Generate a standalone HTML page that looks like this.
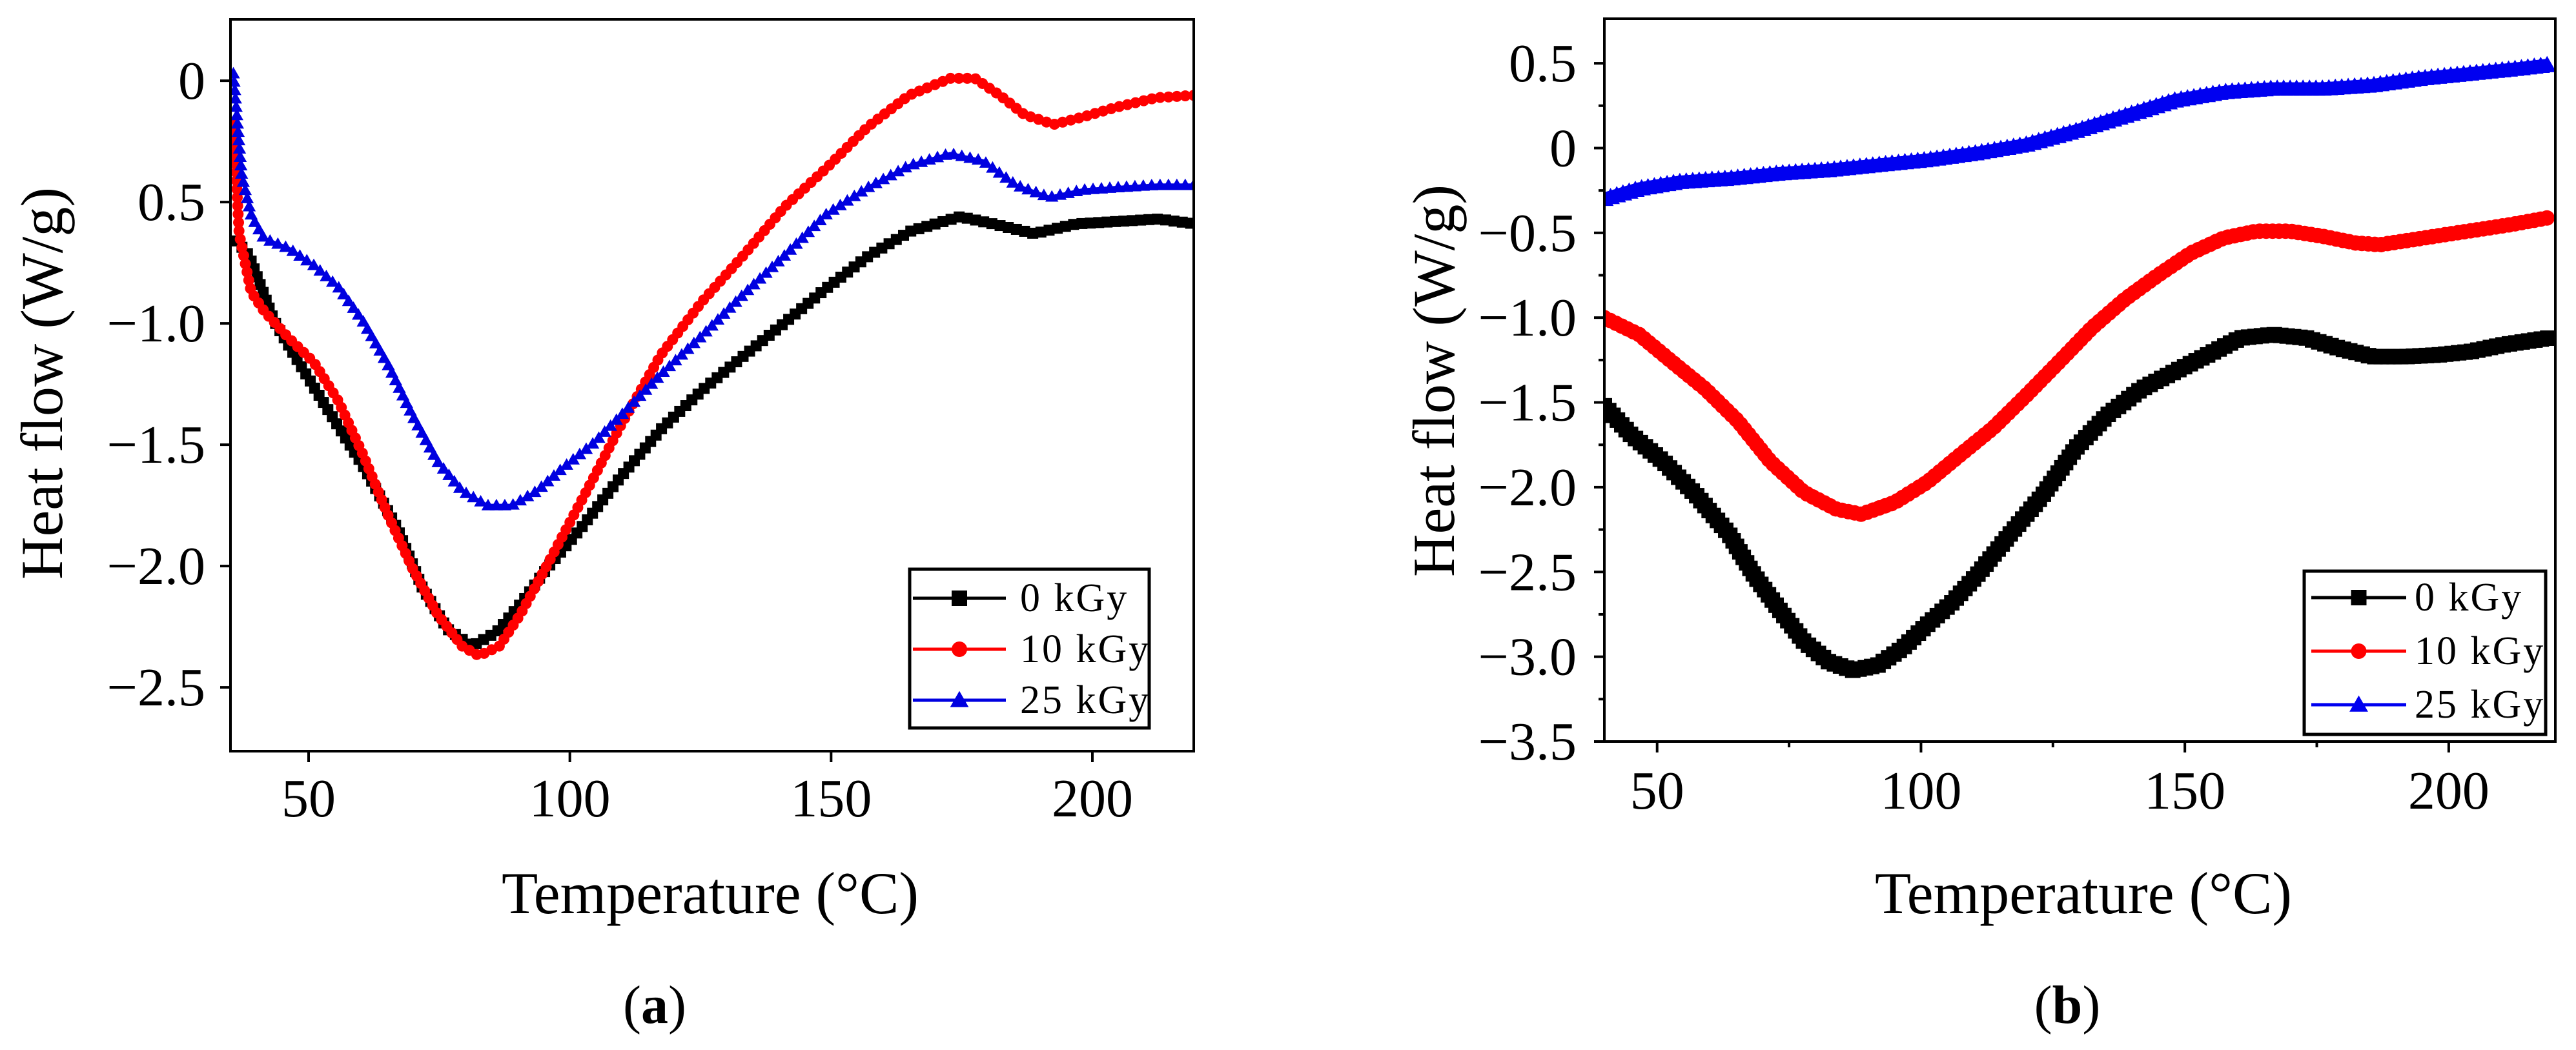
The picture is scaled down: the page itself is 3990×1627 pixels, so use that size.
<!DOCTYPE html>
<html><head><meta charset="utf-8">
<style>
html,body{margin:0;padding:0;background:#fff;}
svg{display:block;}
text{font-family:"Liberation Serif",serif;fill:#000;}
</style></head>
<body>
<svg id="fig" width="3990" height="1627" viewBox="0 0 3990 1627" xmlns="http://www.w3.org/2000/svg">
<rect x="0" y="0" width="3990" height="1627" fill="#fff"/>
</svg>
<script>
// ---- Panel (a) data ----
const aTemp0 = [36.2,38.6,43.4,48.1,54.4,60.8,67.1,71.8,76.6,81.3,86.1,90.8,95.6,101.9,109.8,117.7,125.6,133.5,141.5,149.4,157.3,165.2,174.7,181,188.9,196.8,204.7,212.7,219.8];
const aFlow0 = [-0.66,-0.72,-0.99,-1.16,-1.38,-1.60,-1.85,-2.09,-2.26,-2.33,-2.27,-2.15,-2.01,-1.85,-1.63,-1.43,-1.27,-1.13,-0.99,-0.85,-0.72,-0.62,-0.56,-0.59,-0.63,-0.59,-0.58,-0.57,-0.59];
const aTemp10 = [35.6,36.7,39,41.5,46.2,51,55.7,60.4,65.2,69.9,74.7,79.4,82.6,86.5,90.5,95.3,100,104.7,109.5,117.4,125.3,133.2,141.1,149.1,157,164.9,172.8,177.5,182.3,187,192.6,198.1,204.4,212.3,219.4];
const aFlow10 = [-0.17,-0.63,-0.87,-0.95,-1.06,-1.16,-1.32,-1.54,-1.79,-2.01,-2.20,-2.33,-2.37,-2.33,-2.20,-2.01,-1.82,-1.63,-1.43,-1.13,-0.91,-0.72,-0.52,-0.36,-0.19,-0.06,0.01,0.01,-0.06,-0.14,-0.18,-0.15,-0.11,-0.07,-0.06];
const aTemp25 = [35.6,37.2,39.1,41.5,46.2,51,55.7,60.4,65.2,69.9,74.7,79.4,84.2,88.9,93.7,98.4,104.7,111.1,117.4,125.3,133.2,141.1,149.1,157,164.9,172.8,179.1,185.4,191.8,198.1,204.4,212.3,219.4];
const aFlow25 = [0.03,-0.39,-0.56,-0.65,-0.69,-0.76,-0.85,-0.99,-1.17,-1.38,-1.57,-1.69,-1.75,-1.75,-1.69,-1.60,-1.49,-1.35,-1.21,-1.05,-0.88,-0.72,-0.55,-0.44,-0.35,-0.30,-0.33,-0.43,-0.48,-0.45,-0.44,-0.43,-0.43];
const aXTicks = [50,100,150,200];
const aXTickLabels = ["50","100","150","200"];
const aYTicks = [0,-0.5,-1.0,-1.5,-2.0,-2.5];
const aYTickLabels = ["0","0.5","\u22121.0","\u22121.5","\u22122.0","\u22122.5"];

// ---- Panel (b) data ----
const bTemp0 = [40,45,51.2,57.5,63.7,68.4,73.1,77.8,82.5,87.1,91.8,96.5,101.2,105.9,110.6,116.8,123,129.3,135.5,141.8,148,154.3,160.5,166.7,173,179.2,185.5,191.7,198,204.2,210.4,219];
const bFlow0 = [-1.52,-1.69,-1.85,-2.05,-2.28,-2.52,-2.72,-2.91,-3.03,-3.08,-3.05,-2.95,-2.81,-2.68,-2.52,-2.28,-2.05,-1.77,-1.57,-1.42,-1.32,-1.22,-1.12,-1.10,-1.12,-1.18,-1.23,-1.23,-1.22,-1.20,-1.16,-1.12];
const bTemp10 = [40,46.6,52.8,59.1,65.3,71.5,77.8,84,88.7,95,101.2,107.4,113.7,119.9,126.2,132.4,138.7,144.9,151.1,157.4,163.6,169.9,176.1,182.4,187,193.3,199.5,205.8,212,219];
const bFlow10 = [-1.00,-1.10,-1.26,-1.42,-1.61,-1.85,-2.03,-2.13,-2.16,-2.09,-1.97,-1.81,-1.65,-1.46,-1.26,-1.06,-0.89,-0.75,-0.62,-0.53,-0.49,-0.49,-0.52,-0.56,-0.57,-0.54,-0.51,-0.48,-0.45,-0.41];
const bTemp25 = [40,46.6,54.4,63.7,73.1,82.5,91.8,101.2,110.6,119.9,129.3,138.7,148,157.4,166.7,176.1,185.5,194.8,204.2,213.6,219];
const bFlow25 = [-0.30,-0.24,-0.20,-0.18,-0.15,-0.13,-0.10,-0.07,-0.03,0.02,0.10,0.19,0.28,0.33,0.35,0.35,0.37,0.41,0.44,0.47,0.49];
const bXTicks = [50,100,150,200];
const bXTickLabels = ["50","100","150","200"];
const bXMinor = [75,125,175];
const bYTicks = [0.5,0,-0.5,-1.0,-1.5,-2.0,-2.5,-3.0,-3.5];
const bYTickLabels = ["0.5","0","\u22120.5","\u22121.0","\u22121.5","\u22122.0","\u22122.5","\u22123.0","\u22123.5"];
const bYMinor = [0.25,-0.25,-0.75,-1.25,-1.75,-2.25,-2.75,-3.25];

const legendLabels = ["0 kGy","10 kGy","25 kGy"];

const NS = "http://www.w3.org/2000/svg";
const svg = document.getElementById('fig');
function mk(tag, attrs, parent){
  const e = document.createElementNS(NS, tag);
  for (const k in attrs) e.setAttribute(k, attrs[k]);
  (parent||svg).appendChild(e);
  return e;
}

function marker(g, kind, cx, cy, s, color){
  let m;
  if (kind === 'square') m = mk('rect', {x:cx-s/2, y:cy-s/2, width:s, height:s, fill:color}, g);
  else if (kind === 'circle') m = mk('circle', {cx:cx, cy:cy, r:s/2, fill:color}, g);
  else m = mk('polygon', {points:(cx)+','+(cy-s*0.6)+' '+(cx-s*0.6)+','+(cy+s*0.45)+' '+(cx+s*0.6)+','+(cy+s*0.45), fill:color}, g);
  
  
  return m;
}

function panel(cfg){
  const X = t => cfg.L + (t - cfg.x0) / (cfg.x1 - cfg.x0) * (cfg.R - cfg.L);
  const Y = v => cfg.T + (cfg.y1 - v) / (cfg.y1 - cfg.y0) * (cfg.B - cfg.T);
  const g = mk('g', {});
  
  
  const clipId = cfg.name + '-clip';
  const cp = mk('clipPath', {id:clipId}, g);
  mk('rect', {x:cfg.L, y:cfg.T, width:cfg.R-cfg.L, height:cfg.B-cfg.T}, cp);

  const sg = mk('g', {'clip-path':'url(#'+clipId+')'}, g);
  cfg.series.forEach(s => {
    const pts = s.t.map((t,i) => X(t).toFixed(1)+','+Y(s.v[i]).toFixed(1)).join(' ');
    const line = mk('polyline', {points:pts, fill:'none', stroke:s.color, 'stroke-width':cfg.lw, 'stroke-linejoin':'round'}, sg);
    
    
    const mg = mk('g', {}, sg);
    
    
    const len = line.getTotalLength();
    for (let d = 0; d <= len; d += cfg.spacing){
      const p = line.getPointAtLength(d);
      marker(mg, s.kind, p.x, p.y, cfg.ms, s.color);
    }
  });

  const fr = mk('rect', {x:cfg.L, y:cfg.T, width:cfg.R-cfg.L, height:cfg.B-cfg.T, fill:'none', stroke:'#000', 'stroke-width':4}, g);
  
  

  cfg.yTicks.forEach((v,i) => {
    const y = Y(v);
    const tk = mk('line', {x1:cfg.L-16, x2:cfg.L, y1:y, y2:y, stroke:'#000', 'stroke-width':4}, g);
    
    
    const tx = mk('text', {x:cfg.yLabelX, y:y+28, 'text-anchor':'end', 'font-size':84}, g);
    tx.textContent = cfg.yLabels[i];
    
    
  });
  (cfg.yMinor||[]).forEach(v => {
    const y = Y(v);
    const tk = mk('line', {x1:cfg.L-9, x2:cfg.L, y1:y, y2:y, stroke:'#000', 'stroke-width':4}, g);
    
    
  });
  cfg.xTicks.forEach((t,i) => {
    const x = X(t);
    const tk = mk('line', {x1:x, x2:x, y1:cfg.B, y2:cfg.B+17, stroke:'#000', 'stroke-width':4}, g);
    
    
    const tx = mk('text', {x:x, y:cfg.xLabelY, 'text-anchor':'middle', 'font-size':84}, g);
    tx.textContent = cfg.xLabels[i];
    
    
  });
  (cfg.xMinor||[]).forEach(t => {
    const x = X(t);
    const tk = mk('line', {x1:x, x2:x, y1:cfg.B, y2:cfg.B+9, stroke:'#000', 'stroke-width':4}, g);
    
    
  });

  const xt = mk('text', {x:cfg.xTitleX, y:cfg.xTitleY, 'text-anchor':'middle', 'font-size':92}, g);
  xt.textContent = 'Temperature (\u00B0C)';
  
  
  const yt = mk('text', {x:0, y:0, 'text-anchor':'middle', 'font-size':92, transform:'translate('+(cfg.yTitleX+32)+','+cfg.yTitleY+') rotate(-90)'}, g);
  yt.textContent = 'Heat flow (W/g)';
  
  

  const lg = mk('g', {}, g);
  
  
  const lb = mk('rect', {x:cfg.lg.x, y:cfg.lg.y, width:cfg.lg.w, height:cfg.lg.h, fill:'#fff', stroke:'#000', 'stroke-width':5}, lg);
  
  
  cfg.series.forEach((s,i) => {
    const ry = cfg.lg.rows[i];
    const eg = mk('g', {}, lg);
    
    
    mk('line', {x1:cfg.lg.lx1, x2:cfg.lg.lx2, y1:ry, y2:ry, stroke:s.color, 'stroke-width':5}, eg);
    marker(eg, s.kind, (cfg.lg.lx1+cfg.lg.lx2)/2, ry, 24, s.color);
    const tx = mk('text', {x:cfg.lg.tx, y:ry+20, 'font-size':62, 'letter-spacing':3}, eg);
    tx.textContent = legendLabels[i];
  });

  const cap = mk('text', {x:cfg.capX, y:cfg.capY, 'text-anchor':'middle', 'font-size':84}, g);
  cap.innerHTML = '(<tspan font-weight="bold">' + cfg.cap + '</tspan>)';
  
  
}

panel({
  name:'panel-a', L:357, R:1849, T:30, B:1164,
  x0:35.05, x1:219.4, y0:-2.763, y1:0.253,
  lw:5, ms:17, spacing:13,
  series:[
    {key:'0-kgy', t:aTemp0, v:aFlow0, color:'#000', kind:'square'},
    {key:'10-kgy', t:aTemp10, v:aFlow10, color:'#ff0000', kind:'circle'},
    {key:'25-kgy', t:aTemp25, v:aFlow25, color:'#0000e0', kind:'triangle'}
  ],
  yTicks:aYTicks, yLabels:aYTickLabels, yLabelX:318,
  xTicks:aXTicks, xLabels:aXTickLabels, xLabelY:1265,
  xTitleX:1100, xTitleY:1415, yTitleX:64, yTitleY:594,
  lg:{x:1409, y:882, w:371, h:246, rows:[927,1006,1085], lx1:1414, lx2:1558, tx:1580},
  capX:1014, capY:1585, cap:'a'
});

panel({
  name:'panel-b', L:2485, R:3958, T:29, B:1149,
  x0:40, x1:220.2, y0:-3.5, y1:0.763,
  lw:20, ms:24, spacing:10,
  series:[
    {key:'0-kgy', t:bTemp0, v:bFlow0, color:'#000', kind:'square'},
    {key:'10-kgy', t:bTemp10, v:bFlow10, color:'#ff0000', kind:'circle'},
    {key:'25-kgy', t:bTemp25, v:bFlow25, color:'#0000f0', kind:'triangle'}
  ],
  yTicks:bYTicks, yLabels:bYTickLabels, yLabelX:2442, yMinor:bYMinor,
  xTicks:bXTicks, xLabels:bXTickLabels, xLabelY:1253, xMinor:bXMinor,
  xTitleX:3227, xTitleY:1415, yTitleX:2220, yTitleY:590,
  lg:{x:3569, y:885, w:374, h:253, rows:[926,1009,1092], lx1:3580, lx2:3727, tx:3740},
  capX:3202, capY:1585, cap:'b'
});
</script>
</body></html>
